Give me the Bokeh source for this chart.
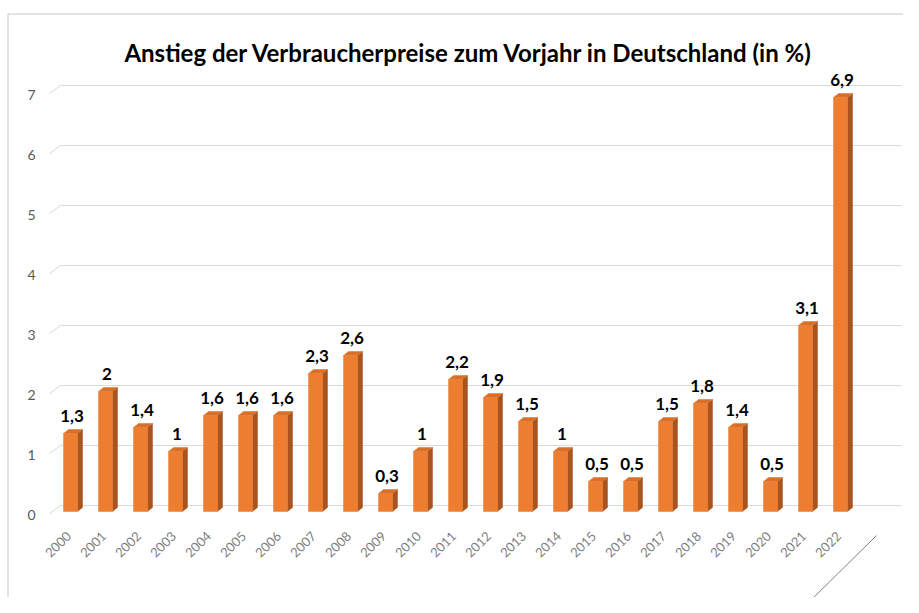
import math
from bokeh.plotting import figure
from bokeh.models import ColumnDataSource, Range1d
from bokeh.core.properties import value
from bokeh.embed import file_html
from bokeh.resources import INLINE

# ---- data ----
years = [str(y) for y in range(2000, 2023)]
rates = [1.3, 2.0, 1.4, 1.0, 1.6, 1.6, 1.6, 2.3, 2.6, 0.3, 1.0, 2.2, 1.9, 1.5,
         1.0, 0.5, 0.5, 1.5, 1.8, 1.4, 0.5, 3.1, 6.9]
rate_labels = ["1,3", "2", "1,4", "1", "1,6", "1,6", "1,6", "2,3", "2,6", "0,3", "1",
               "2,2", "1,9", "1,5", "1", "0,5", "0,5", "1,5", "1,8", "1,4", "0,5",
               "3,1", "6,9"]
y_ticks = [0, 1, 2, 3, 4, 5, 6, 7]
title_text = "Anstieg der Verbraucherpreise zum Vorjahr in Deutschland (in %)"

# ---- layout: canvas pixel -> data conversion (35 px per category, 60 px per unit) ----
PXX = 35.0
PXY = 60.0
X0_PX = 70.0    # canvas x of first category centre
Y0_PX = 511.0   # canvas y of value 0 (front plane)
W, H = 903, 597


def X(px):
    return (px - X0_PX) / PXX


def Y(py):
    return (Y0_PX - py) / PXY


def dx(px):
    return px / PXX


def dy(px):
    return px / PXY


BAR_W = dx(14)
SIDE_DX = dx(5)
SIDE_DY = dy(4)

FRONT = "#ED7D31"
SIDE = "#A9541E"
TOP = "#D8702A"
GRID = "#D9D9D9"
BORDER = "#D9D9D9"
TEXT_GRAY = "#595959"
YEAR_GRAY = "#7F7F7F"
FONT = "Lato"

n = len(years)
xs = list(range(n))

p = figure(width=W, height=H, output_backend="svg", toolbar_location=None,
           x_range=Range1d(X(0), X(W)), y_range=Range1d(Y(H), Y(0)),
           x_axis_location=None, y_axis_location=None,
           min_border=0, min_border_left=0, min_border_right=0,
           min_border_top=0, min_border_bottom=0)
p.title.visible = False
p.outline_line_color = None
p.background_fill_color = "white"
p.border_fill_color = "white"
p.xgrid.visible = False
p.ygrid.visible = False

# ---- chart area border (top and left) ----
p.segment(x0=[X(7.5)], y0=[Y(13.5)], x1=[X(W)], y1=[Y(13.5)], line_color=BORDER, line_width=1.5)
p.segment(x0=[X(7.5)], y0=[Y(13.5)], x1=[X(7.5)], y1=[Y(H)], line_color=BORDER, line_width=1.5)

# ---- title ----
p.text(x=[X(468.5)], y=[Y(52)], text=[title_text], text_align="center",
       text_baseline="alphabetic", text_font=value(FONT), text_font_style="bold",
       text_font_size="24px", text_color="black")

# ---- gridlines (back wall) + left diagonal stubs + y tick labels ----
grid_src = ColumnDataSource(dict(
    bx=[X(60)] * len(y_ticks),
    ex=[X(901)] * len(y_ticks),
    by=[t + dy(6) for t in y_ticks],
    fx=[X(49)] * len(y_ticks),
    fy=[t - dy(2) for t in y_ticks],
    lx=[X(35)] * len(y_ticks),
    ly=[t - dy(3) for t in y_ticks],
    lab=[str(t) for t in y_ticks],
))
p.segment(x0="bx", y0="by", x1="ex", y1="by", source=grid_src, line_color=GRID, line_width=1)
p.segment(x0="fx", y0="fy", x1="bx", y1="by", source=grid_src, line_color=GRID, line_width=1)
p.text(x="lx", y="ly", text="lab", source=grid_src, text_align="right",
       text_baseline="middle", text_font=value(FONT), text_font_size="14px",
       text_color=TEXT_GRAY)

# ---- floor edge diagonal (bottom right) ----
p.segment(x0=[X(805)], y0=[Y(605)], x1=[X(876)], y1=[Y(535)],
          line_color="#7F7F7F", line_width=1)

# ---- bars: side faces, top faces, front faces ----
side_x, side_y, top_x, top_y = [], [], [], []
for x, v in zip(xs, rates):
    r = x + BAR_W / 2
    l = x - BAR_W / 2
    side_x.append([r, r + SIDE_DX, r + SIDE_DX, r])
    side_y.append([0, SIDE_DY, v + SIDE_DY, v])
    top_x.append([l, r, r + SIDE_DX, l + SIDE_DX])
    top_y.append([v, v, v + SIDE_DY, v + SIDE_DY])
p.patches(side_x, side_y, fill_color=SIDE, line_color=SIDE, line_width=0.5)
p.patches(top_x, top_y, fill_color=TOP, line_color=TOP, line_width=0.5)

bar_src = ColumnDataSource(dict(
    x=xs, top=rates, lab=rate_labels, year=years,
    lab_x=[x + dx(1.5) for x in xs],
    lab_y=[v + dy(18) for v in rates],
    yr_x=[x - dx(2) for x in xs],
    yr_y=[dy(-22)] * n,
))
p.vbar(x="x", top="top", bottom=0, width=BAR_W, source=bar_src,
       fill_color=FRONT, line_color=FRONT, line_width=0.5)

# ---- value labels ----
p.text(x="lab_x", y="lab_y", text="lab", source=bar_src, text_align="center",
       text_baseline="alphabetic", text_font=value(FONT), text_font_style="bold",
       text_font_size="17px", text_color="black")

# ---- year labels (rotated category labels) ----
p.text(x="yr_x", y="yr_y", text="year", source=bar_src, text_align="right",
       text_baseline="middle", angle=math.pi / 4,
       text_font=value(FONT), text_font_size="13px", text_color=YEAR_GRAY)

open("out.html", "w").write(file_html(p, INLINE))
